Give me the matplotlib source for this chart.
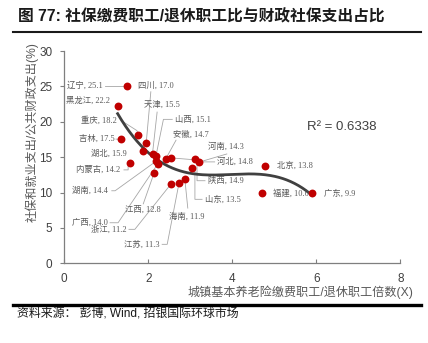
import numpy as np
import matplotlib
matplotlib.use("Agg")
import matplotlib.pyplot as plt
from matplotlib.lines import Line2D

plt.rcParams['font.family'] = ['Liberation Sans', 'Noto Sans CJK SC', 'DejaVu Sans']

# Province data: contributor/retiree ratio (x) and social-security share of spending (y, %)
provinces = ["辽宁", "黑龙江", "重庆", "吉林", "四川", "湖北", "天津", "山西", "湖南", "广西",
             "内蒙古", "江西", "安徽", "陕西", "河北", "河南", "山东", "海南", "江苏", "浙江",
             "北京", "福建", "广东"]
ratio = [1.49, 1.27, 1.76, 1.35, 1.95, 1.88, 2.10, 2.18, 2.18, 2.22,
         1.56, 2.14, 2.41, 2.53, 3.10, 3.21, 3.03, 2.87, 2.73, 2.54,
         4.78, 4.71, 5.90]
share = [25.1, 22.2, 18.2, 17.5, 17.0, 15.9, 15.5, 15.1, 14.4, 14.0,
         14.2, 12.8, 14.7, 14.9, 14.8, 14.3, 13.5, 11.9, 11.3, 11.2,
         13.8, 10.0, 9.9]
r2_text = "R² = 0.6338"
x_ticks = [0, 2, 4, 6, 8]
y_ticks = [0, 5, 10, 15, 20, 25, 30]

# Label placement: text anchor (x, y), horizontal alignment, leader waypoints (data units)
layout = {
    "辽宁":   (0.92, 25.1, "right", [(0.97, 25.1)]),
    "黑龙江": (1.09, 22.97, "right", []),
    "重庆":   (1.25, 20.14, "right", [(1.40, 20.0), (1.73, 18.75)]),
    "吉林":   (1.21, 17.62, "right", [(1.23, 17.55)]),
    "四川":   (1.76, 25.04, "left", [(2.06, 24.24)]),
    "湖北":   (1.49, 15.54, "right", []),
    "天津":   (1.90, 22.36, "left", [(2.21, 21.37)]),
    "山西":   (2.64, 20.34, "left", [(2.57, 20.34), (2.36, 20.34)]),
    "湖南":   (1.04, 10.25, "right", [(1.13, 10.25), (1.21, 10.25)]),
    "广西":   (1.04, 5.73, "right", [(1.09, 5.73), (1.28, 5.73)]),
    "内蒙古": (1.33, 13.28, "right", [(1.42, 13.2), (1.52, 13.2), (1.52, 13.7)]),
    "江西":   (1.45, 7.63, "left", [(1.88, 8.4)]),
    "安徽":   (2.59, 18.2, "left", [(2.66, 17.4)]),
    "陕西":   (3.42, 11.67, "left", [(3.35, 11.67), (3.16, 11.67), (3.16, 14.6)]),
    "河北":   (3.64, 14.35, "left", [(3.58, 14.33), (3.30, 14.33)]),
    "河南":   (3.42, 16.57, "left", [(3.87, 15.45)]),
    "山东":   (3.35, 9.04, "left", [(3.28, 9.04), (3.11, 9.04), (3.11, 13.1)]),
    "海南":   (2.49, 6.58, "left", [(2.94, 7.8)]),
    "江苏":   (2.28, 2.68, "right", [(2.33, 2.68), (2.45, 2.68)]),
    "浙江":   (1.49, 4.80, "right", [(1.54, 4.8), (1.68, 4.8)]),
    "北京":   (5.06, 13.79, "left", []),
    "福建":   (4.97, 9.89, "left", []),
    "广东":   (6.18, 9.89, "left", []),
}

fig = plt.figure(figsize=(4.28, 3.43), dpi=100)
ax = fig.add_axes([64.3 / 428, 1 - 263.3 / 343, (400.3 - 64.3) / 428, (263.3 - 51) / 343])

label_color = "#595959"
label_font = ['Liberation Serif', 'Noto Sans CJK SC']

# Leader lines and labels
for name, xv, yv in zip(provinces, ratio, share):
    tx, ty, ha, pts = layout[name]
    if pts:
        path = pts + [(xv, yv)]
        ax.plot([p[0] for p in path], [p[1] for p in path], color="#a6a6a6",
                lw=0.6, zorder=1)
    ax.text(tx, ty, f"{name}, {yv:.1f}", ha=ha, va="center", fontsize=6,
            color=label_color, family=label_font, zorder=4)

# Polynomial trend line (cubic)
coef = np.polyfit(ratio, share, 3)
xs = np.linspace(min(ratio), max(ratio), 200)
ax.plot(xs, np.polyval(coef, xs), color="#404040", lw=2.0, zorder=2)

ax.scatter(ratio, share, s=32, color="#c00000", zorder=3, linewidths=0)

ax.text(6.6, 19.3, r2_text, ha="center", va="center", fontsize=9.5, color="#404040")

ax.set_xlim(0, 8)
ax.set_ylim(0, 30)
ax.set_xticks(x_ticks)
ax.set_yticks(y_ticks)
for s in ("top", "right"):
    ax.spines[s].set_visible(False)
for s in ("left", "bottom"):
    ax.spines[s].set_color("#7f7f7f")
    ax.spines[s].set_linewidth(0.9)
ax.tick_params(axis="x", direction="in", length=3, color="#7f7f7f",
               labelsize=8.5, labelcolor="#404040", pad=7)
ax.tick_params(axis="y", direction="out", length=3, color="#7f7f7f",
               labelsize=8.5, labelcolor="#404040", pad=5.5)

fig.text(413 / 428, 1 - 292.7 / 343, "城镇基本养老险缴费职工/退休职工倍数(X)", ha="right",
         va="center", fontsize=8.7, color=label_color,
         family=['Liberation Sans', 'Noto Sans CJK SC'])
fig.text(32 / 428, 1 - 132.5 / 343, "社保和就业支出/公共财政支出(%)", ha="center", va="center",
         rotation=90, fontsize=8.7, color=label_color,
         family=['Liberation Sans', 'Noto Sans CJK SC'])

# Header and footer
fig.text(18 / 428, 1 - 17 / 343, "图 77: 社保缴费职工/退休职工比与财政社保支出占比",
         ha="left", va="center", fontsize=11.3, fontweight="bold", color="#1a1a1a",
         family=['Liberation Sans', 'Noto Sans CJK SC'])
fig.add_artist(Line2D([13 / 428, 421 / 428], [1 - 32.3 / 343] * 2, color="#1a1a1a", lw=1.5))
fig.add_artist(Line2D([13 / 428, 421 / 428], [1 - 305 / 343] * 2, color="#000000", lw=2.4))
fig.text(17 / 428, 1 - 313 / 343, "资料来源： 彭博, Wind, 招银国际环球市场", ha="left",
         va="center", fontsize=8.6, color="#1a1a1a",
         family=['Liberation Sans', 'Noto Sans CJK SC'])

fig.savefig("out.png", dpi=100)
